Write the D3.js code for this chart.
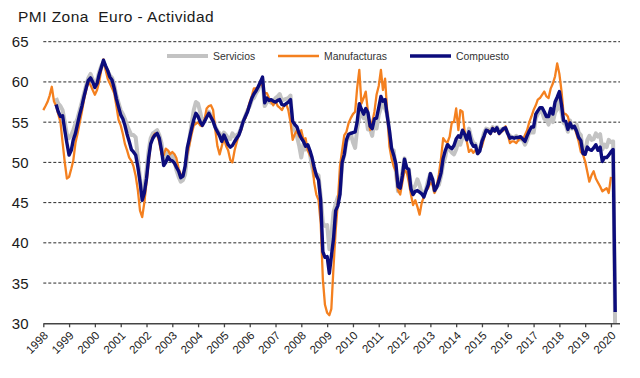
<!DOCTYPE html>
<html><head><meta charset="utf-8">
<script src="https://cdn.jsdelivr.net/npm/d3@7"></script>
<style>
html,body{margin:0;padding:0;background:#fff;}
svg{display:block;font-family:"Liberation Sans",Arial,Helvetica,sans-serif;}
</style></head><body>
<svg id="chart" width="640" height="378"></svg>
<script>
// ---------------- DATA ----------------
const chartTitle = "PMI Zona  Euro - Actividad";
const seriesNames = ["Servicios", "Manufacturas", "Compuesto"];
const yTickValues = [30, 35, 40, 45, 50, 55, 60, 65];
const xTickYears = [1998,1999,2000,2001,2002,2003,2004,2005,2006,2007,2008,2009,2010,2011,2012,2013,2014,2015,2016,2017,2018,2019,2020];

// monthly, first value = Jul 1998
const serviciosStart = [1998, 7];
const servicios = [
  58.0, 57.3, 57.0, 56.5, 55.0, 53.5,
  53.0, 53.4, 54.0, 54.8, 55.5, 56.5, 57.5, 58.6, 59.6, 60.5, 61.0, 60.3,
  59.5, 60.2, 61.2, 62.0, 62.4, 61.8, 61.3, 60.8, 60.5, 59.6, 58.3, 57.4,
  56.5, 56.0, 55.4, 54.6, 54.0, 53.4, 53.4, 53.1, 50.5, 48.0, 46.0, 46.8,
  49.0, 51.5, 53.0, 53.6, 53.8, 54.0, 53.4, 52.4, 50.3, 50.6, 51.3, 51.0,
  50.8, 50.2, 49.0, 48.2, 47.6, 47.8, 48.5, 51.0, 53.0, 54.8, 56.5, 57.5,
  57.3, 56.2, 55.0, 55.3, 55.8, 56.3, 55.8, 55.2, 54.4, 53.9, 53.6, 52.9,
  53.7, 53.4, 53.0, 52.9, 53.6, 53.2, 53.4, 53.6, 54.3, 55.1, 55.8, 56.5,
  57.0, 57.8, 58.0, 58.6, 59.0, 59.9, 60.3, 57.0, 57.5, 57.6, 57.4, 57.5,
  58.0, 58.2, 58.5, 57.7, 57.8, 57.9, 58.0, 58.3, 54.2, 54.0, 53.2, 52.1,
  50.6, 52.3, 51.6, 52.0, 51.1, 49.5, 48.3, 48.5, 48.4, 45.8, 42.5, 42.1,
  42.2, 39.2, 40.9, 43.8, 44.8, 45.7, 46.1, 49.9, 50.9, 52.6, 53.0, 53.6,
  52.5, 51.8, 54.1, 55.6, 56.2, 55.5, 56.0, 54.1, 54.1, 53.3, 55.4, 54.2,
  55.9, 56.8, 57.2, 56.7, 56.0, 53.7, 51.6, 51.5, 48.8, 46.4, 47.5, 48.8,
  50.5, 48.8, 49.2, 46.9, 46.7, 47.1, 47.9, 47.2, 46.1, 46.0, 46.7, 47.8,
  48.6, 47.9, 46.4, 47.0, 47.2, 48.3, 49.8, 50.7, 52.2, 51.6, 51.2, 51.0,
  51.6, 52.6, 52.2, 53.1, 53.2, 52.8, 54.2, 53.1, 52.4, 52.3, 51.1, 51.6,
  52.7, 53.7, 54.2, 54.1, 53.8, 54.4, 54.0, 54.4, 53.7, 54.1, 54.2, 54.2,
  53.6, 53.3, 53.1, 53.1, 53.3, 52.8, 52.9, 52.8, 52.2, 52.8, 53.8, 53.7,
  53.7, 55.5, 56.0, 56.4, 56.3, 55.4, 55.4, 54.7, 55.8, 55.0, 56.2, 56.6,
  58.0, 56.2, 54.9, 54.7, 53.8, 55.2, 54.2, 54.4, 54.7, 53.7, 53.4, 51.2,
  51.2, 52.8, 53.3, 52.8, 52.9, 53.6, 53.2, 53.5, 51.6, 52.2, 51.9, 52.8,
  52.5, 52.6, 28.4
];

// monthly, first value = Jan 1998
const manufacturasStart = [1998, 1];
const manufacturas = [
  56.5, 57.0, 57.5, 58.3, 59.4, 57.6, 57.0, 56.0, 55.0, 52.5, 50.0, 48.0,
  48.2, 49.2, 50.2, 52.4, 53.6, 55.0, 56.3, 57.8, 59.0, 60.0, 59.6, 59.0,
  58.4, 59.0, 60.0, 61.5, 62.8, 61.5, 60.4, 59.8, 59.2, 58.6, 57.0, 55.3,
  54.6, 53.5, 52.3, 51.5, 50.6, 50.2, 49.5, 48.3, 46.5, 44.0, 43.2, 45.0,
  47.5, 50.0, 52.2, 53.2, 53.6, 53.4, 52.5, 51.0, 50.9, 51.7, 51.5, 51.0,
  51.3, 51.0, 50.5, 49.2, 48.5, 48.4, 49.5, 51.0, 52.2, 53.5, 54.6, 54.8,
  55.0, 54.6, 54.5, 55.3, 56.7, 57.0, 57.1, 56.5, 54.0, 52.0, 51.0, 52.0,
  53.0, 52.0, 51.5, 50.3, 50.0, 51.5, 52.5, 53.5, 54.0, 55.1, 55.5, 56.5,
  57.5, 58.3, 59.2, 59.2, 59.4, 59.8, 59.5, 58.6, 58.6, 58.0, 57.5, 57.1,
  57.6, 57.0, 56.8, 56.5, 57.0, 57.3, 56.5, 55.0, 52.8, 53.5, 54.0, 53.2,
  54.0, 52.8, 53.0, 51.5, 50.9, 50.5, 47.5, 46.0, 45.3, 42.5, 35.5, 32.3,
  31.3, 31.0, 31.8, 37.0, 41.5, 45.0, 49.5, 51.5, 53.4, 53.8, 54.9, 55.5,
  56.0, 56.3, 59.2, 61.5, 57.3, 58.0, 58.8, 56.3, 54.0, 55.0, 56.3, 58.4,
  59.5, 61.5, 59.0, 60.4, 56.3, 52.0, 50.5, 49.5, 48.9, 46.5, 46.0, 47.5,
  49.0, 48.8, 47.6, 46.0, 44.7, 45.3, 44.5, 43.5, 45.0, 45.7, 46.5, 46.8,
  47.5, 47.2, 46.2, 47.0, 48.5, 50.5, 53.0, 52.6, 52.5, 53.2, 55.0, 55.0,
  56.7, 54.0, 56.5, 56.3, 53.8, 52.6, 51.3, 51.6, 51.2, 51.5, 51.3, 51.5,
  52.0, 53.0, 54.0, 54.0, 53.5, 54.3, 53.8, 54.2, 53.5, 53.8, 54.0, 54.5,
  53.5, 52.4, 52.6, 52.6, 52.4, 52.8, 53.0, 52.8, 53.4, 54.0, 55.0, 55.7,
  56.5, 57.1, 57.8, 58.0, 58.4, 58.8, 58.2, 58.0, 59.2, 59.8, 60.7, 62.3,
  61.0, 58.8, 56.1, 56.0, 55.7, 54.6, 54.5, 54.4, 53.5, 52.6, 51.3, 51.0,
  50.1, 48.8, 47.6, 48.4, 48.9, 48.0, 47.5, 47.0, 46.4, 46.6, 46.8, 46.2,
  48.2
];

// monthly, first value = Jul 1998
const compuestoStart = [1998, 7];
const compuesto = [
  57.2, 56.3, 55.7, 55.8, 54.0, 52.4,
  50.9, 51.5, 52.8, 53.6, 54.8, 56.0, 57.0, 58.2, 59.3, 60.2, 60.5, 60.0,
  59.3, 59.8, 60.9, 61.8, 62.7, 62.0, 61.4, 60.6, 60.2, 59.2, 57.9, 56.9,
  55.9, 55.4, 54.6, 53.5, 52.6, 51.6, 51.3, 50.9, 49.4, 47.6, 45.3, 46.2,
  48.0, 50.6, 52.3, 53.0, 53.4, 53.6, 53.0, 51.5, 49.6, 50.0, 50.7, 50.3,
  50.2, 49.9, 49.4, 48.9, 48.1, 48.3, 49.5, 51.8, 53.0, 54.2, 55.3, 56.1,
  55.7, 55.0, 54.6, 55.1, 55.6, 56.1, 55.6, 55.1, 54.3, 53.8, 53.3, 52.6,
  53.4, 52.8, 52.2, 51.9, 52.1, 52.6, 53.0, 53.4, 54.2, 55.1, 55.7, 56.3,
  57.2, 58.0, 58.5, 58.9, 59.4, 60.0, 60.6, 57.4, 58.0, 57.7, 57.8, 57.6,
  57.5, 57.7, 57.8, 57.2, 57.1, 57.3, 57.5, 57.8, 55.1, 54.7, 54.4, 53.6,
  53.0, 52.6, 52.0, 52.2, 51.5, 50.6, 49.4, 48.4, 47.8, 45.3, 38.9, 38.2,
  38.3, 36.2, 38.3, 40.5, 44.0, 44.6, 46.0, 50.0, 51.0, 52.8, 53.5, 53.6,
  53.7, 53.8, 55.0, 57.3, 56.6, 56.0, 56.7, 56.2, 54.5, 54.2, 55.4, 55.5,
  56.8, 58.2, 57.6, 57.8, 55.8, 54.0, 51.8, 50.9, 49.8, 47.0, 46.8, 48.3,
  50.4, 49.3, 49.1, 46.7, 46.0, 46.4, 46.5, 46.3, 46.1, 45.7, 46.5, 47.2,
  48.6, 47.9, 46.5, 46.9, 47.7, 48.7, 50.5, 51.5, 52.2, 51.9, 51.7, 52.1,
  52.9, 53.3, 53.1, 54.0, 53.5, 52.8, 53.8, 52.5, 52.0, 52.1, 51.1, 51.4,
  52.6, 53.3, 54.0, 53.9, 53.6, 54.2, 53.9, 54.3, 53.6, 53.9, 54.2, 54.3,
  53.6, 53.0, 53.1, 53.0, 53.1, 53.1, 53.2, 52.9, 52.6, 53.3, 53.9, 54.4,
  54.4, 56.0, 56.4, 56.8, 56.8, 56.3, 55.7, 55.7, 56.7, 56.0, 57.5, 58.1,
  58.8, 57.1, 55.2, 55.1, 54.1, 54.9, 54.3, 54.5, 53.9, 53.1, 52.7, 51.1,
  51.0, 51.9, 51.6, 51.5, 51.8, 52.2, 51.5, 51.9, 50.1, 50.6, 50.6, 50.9,
  51.3, 51.6, 31.4
];

// ---------------- DRAWING ----------------
const svg = d3.select("#chart");
const pLeft = 43.3, pRight = 619.5, pTop = 41.7, pBottom = 323.3;

const x = d3.scaleTime()
  .domain([new Date(1998, 0, 1), new Date(2020, 4, 1)])
  .range([pLeft, pRight]);
const y = d3.scaleLinear().domain([30, 65]).range([pBottom, pTop]);

function toPoints(values, start) {
  return values.map((v, i) => ({ date: new Date(start[0], start[1] - 1 + i, 1), value: v }));
}

const series = [
  { name: seriesNames[0], pts: toPoints(servicios, serviciosStart), color: "#c3c3c3", width: 4 },
  { name: seriesNames[1], pts: toPoints(manufacturas, manufacturasStart), color: "#f4801f", width: 2.3 },
  { name: seriesNames[2], pts: toPoints(compuesto, compuestoStart), color: "#0c0c7c", width: 3.4 }
];

// title
svg.append("text")
  .attr("x", 18).attr("y", 22.3)
  .attr("font-size", 15.5).attr("fill", "#1a1a1a")
  .attr("letter-spacing", 0.45)
  .style("white-space", "pre")
  .text(chartTitle);

// gridlines
svg.append("g").selectAll("line")
  .data(yTickValues.filter(v => v > 30))
  .join("line")
  .attr("x1", pLeft).attr("x2", pRight + 0.5)
  .attr("y1", d => y(d)).attr("y2", d => y(d))
  .attr("stroke", "#2a2a2a").attr("stroke-width", 1)
  .attr("stroke-dasharray", "3,2");

// y labels
svg.append("g").selectAll("text")
  .data(yTickValues)
  .join("text")
  .attr("x", 28.5).attr("y", d => y(d))
  .attr("text-anchor", "end").attr("dominant-baseline", "central")
  .attr("font-size", 15).attr("fill", "#1a1a1a")
  .text(d => d);

// clip
svg.append("defs").append("clipPath").attr("id", "plotclip")
  .append("rect").attr("x", pLeft - 5).attr("y", pTop - 10)
  .attr("width", pRight - pLeft + 10).attr("height", pBottom - pTop + 10);

const line = d3.line().x(d => x(d.date)).y(d => y(d.value));
svg.append("g").attr("clip-path", "url(#plotclip)")
  .selectAll("path")
  .data(series)
  .join("path")
  .attr("d", d => line(d.pts))
  .attr("fill", "none")
  .attr("stroke", d => d.color)
  .attr("stroke-width", d => d.width)
  .attr("stroke-linejoin", "round");

// x axis
const xAxis = d3.axisBottom(x)
  .tickValues(xTickYears.map(yr => new Date(yr, 0, 1)))
  .tickFormat(d3.timeFormat("%Y"))
  .tickSizeOuter(0).tickSizeInner(4);
const gx = svg.append("g").attr("transform", `translate(0,${pBottom})`).call(xAxis);
gx.select(".domain").attr("stroke", "#444").attr("stroke-width", 1.6);
gx.selectAll(".tick line").attr("stroke", "#444").attr("stroke-width", 1.3);
gx.selectAll(".tick text")
  .attr("x", null).attr("y", null).attr("dy", null)
  .attr("transform", "translate(5,13) rotate(-45)")
  .attr("text-anchor", "end")
  .attr("font-size", 11.5)
  .attr("font-family", '"Liberation Sans",Arial,sans-serif')
  .attr("fill", "#222");

// legend
const legendStarts = [167, 278, 410];
const lg = svg.append("g").selectAll("g").data(series).join("g")
  .attr("transform", (d, i) => `translate(${legendStarts[i]},56)`);
lg.append("line").attr("x1", 0).attr("x2", 41).attr("y1", 0).attr("y2", 0)
  .attr("stroke", d => d.color).attr("stroke-width", d => d.width);
lg.append("text").attr("x", 46).attr("y", 0)
  .attr("dominant-baseline", "central")
  .attr("font-size", 10.4).attr("fill", "#333")
  .text(d => d.name);
</script>
</body></html>
